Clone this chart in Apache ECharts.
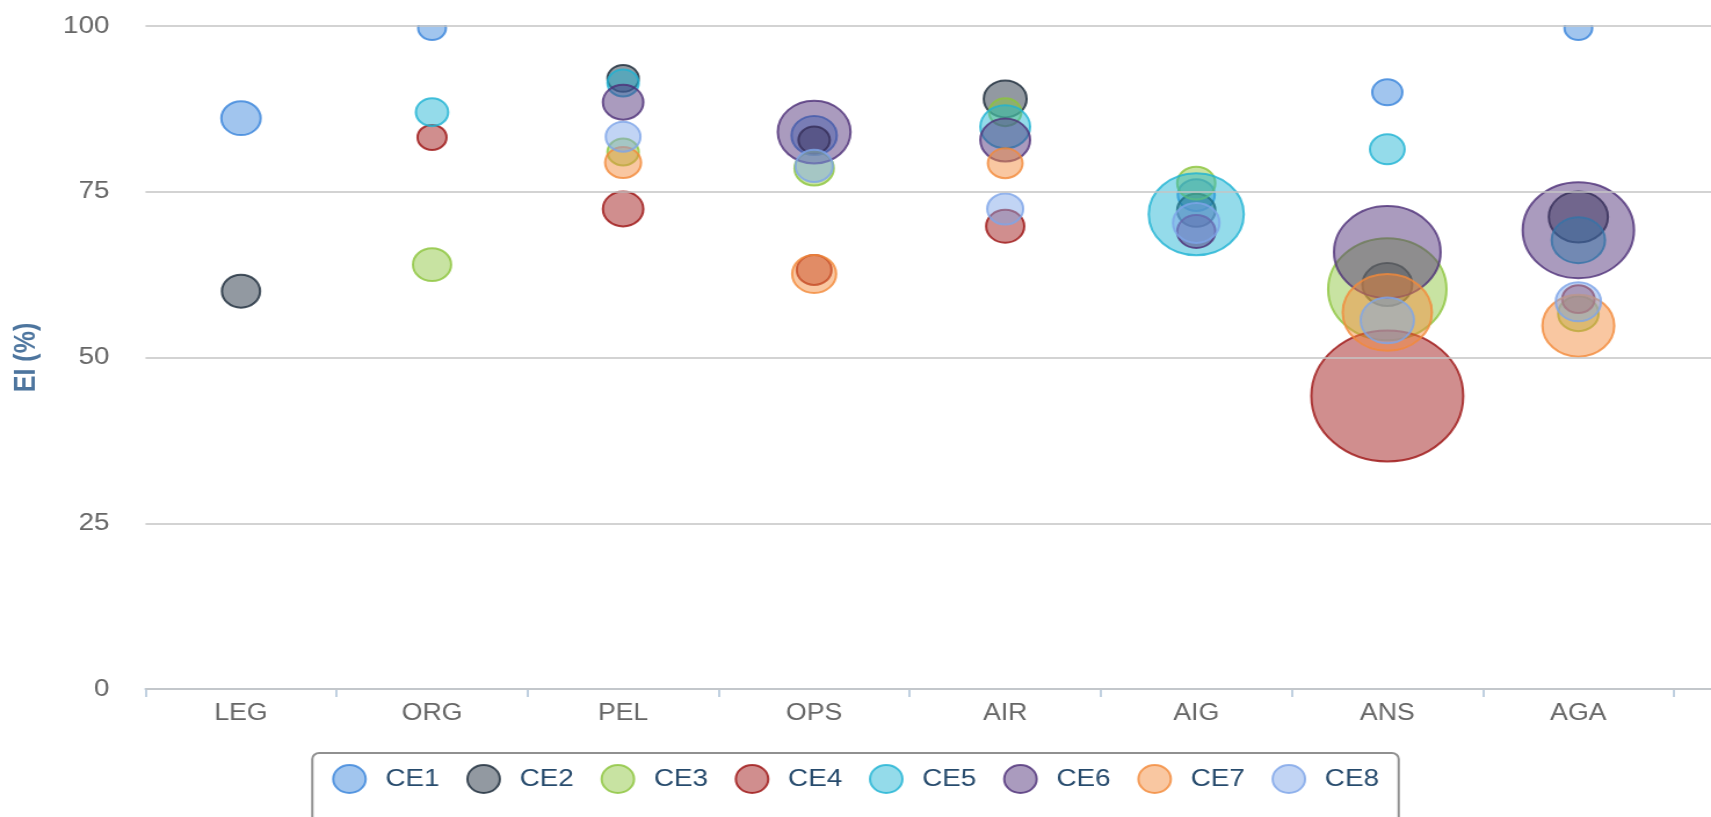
<!DOCTYPE html>
<html>
<head>
<meta charset="utf-8">
<title>EI (%) by area</title>
<script src="https://cdn.jsdelivr.net/npm/echarts@6.0.0/dist/echarts.min.js"></script>
<style>
  html, body { margin: 0; padding: 0; background: #fff; overflow: hidden; }
  /* the source picture is stretched sideways, so the chart is too */
  #chart-container { width: 1475px; height: 817px; transform: scaleX(1.16); transform-origin: 0 0; }
</style>
</head>
<body>
<div id="chart-container"></div>
<script>
// categories (last slot is empty, the axis runs past the edge)
var categories = ['LEG', 'ORG', 'PEL', 'OPS', 'AIR', 'AIG', 'ANS', 'AGA', ''];
var seriesNames = ['CE1', 'CE2', 'CE3', 'CE4', 'CE5', 'CE6', 'CE7', 'CE8'];
var yTicks = [0, 25, 50, 75, 100];

// [category index, EI %, bubble size]
var ce1 = [[0, 86.1, 6.8], [1, 99.7, 3.4], [3, 83.5, 9], [5, 74.5, 6], [6, 90.0, 4.0], [7, 99.7, 3.4]];
var ce2 = [[0, 60.0, 6.4], [2, 92.1, 4.3], [3, 82.8, 4.3], [4, 89.0, 8.1], [5, 72.2, 6.4], [6, 61.0, 10.9], [7, 71.2, 15.4]];
var ce3 = [[1, 64.0, 6.4], [2, 81.0, 4.3], [3, 78.5, 6.8], [4, 87.0, 4.6], [5, 76.3, 6.4], [6, 60.3, 61.6], [7, 56.6, 7.2]];
var ce4 = [[1, 83.2, 3.7], [2, 72.4, 7.2], [3, 63.2, 5.3], [4, 69.8, 6.4], [6, 44.2, 101.5], [7, 58.8, 4.6]];
var ce5 = [[1, 87.0, 4.6], [2, 91.4, 4.3], [4, 84.8, 10.9], [5, 71.6, 39.8], [6, 81.4, 5.3], [7, 67.7, 12.5]];
var ce6 = [[2, 88.5, 7.2], [3, 84.0, 23.3], [4, 82.8, 10.9], [5, 69.0, 6.4], [6, 65.9, 50], [7, 69.2, 54.5]];
var ce7 = [[2, 79.4, 5.7], [3, 62.6, 8.5], [4, 79.3, 5.3], [6, 56.8, 35], [7, 54.8, 22.7]];
var ce8 = [[2, 83.3, 5.3], [3, 78.9, 6.1], [4, 72.4, 5.7], [5, 70.3, 9.5], [6, 55.6, 12.5], [7, 58.4, 9]];

var allData = [ce1, ce2, ce3, ce4, ce5, ce6, ce7, ce8];
var lineColors = ['#3a85db', '#1b2a3a', '#8cc43c', '#9c1212', '#1fb3d3', '#4d2f78', '#f28a3a', '#7ea5e8'];

function fade(hex, a) {
  var n = parseInt(hex.slice(1), 16);
  return 'rgba(' + (n >> 16) + ',' + ((n >> 8) & 255) + ',' + (n & 255) + ',' + a + ')';
}

var dom = document.getElementById('chart-container');
var myChart = echarts.init(dom, null, { renderer: 'canvas' });
var font = 'Liberation Sans, Arial, sans-serif';
var gridLeft = 125.4, gridTop = 26;

var option = {
  animation: false,
  textStyle: { fontFamily: font },
  grid: { left: gridLeft, top: gridTop, bottom: 128, width: 1482.3, outerBoundsMode: 'none', containLabel: false },
  // bubbles sticking out above the top line are cut off, as in the source
  graphic: [{
    type: 'rect',
    z: 5,
    silent: true,
    shape: { x: gridLeft, y: 0, width: 1400, height: gridTop - 1 },
    style: { fill: '#ffffff' }
  }],
  legend: {
    data: seriesNames,
    left: 'center',
    top: 753,
    padding: [11, 17, 30, 17],
    itemWidth: 28,
    itemHeight: 28,
    itemGap: 23,
    icon: 'circle',
    borderColor: '#909090',
    borderWidth: 2,
    borderRadius: 6,
    textStyle: { fontSize: 24, color: '#274b6d', fontFamily: font, padding: [0, 0, 0, 12] }
  },
  xAxis: {
    type: 'category',
    data: categories,
    boundaryGap: true,
    axisLine: { lineStyle: { color: '#c0d0e0', width: 2 } },
    axisTick: { show: true, length: 8, lineStyle: { color: '#c0d0e0', width: 2 } },
    axisLabel: { fontSize: 23, color: '#666666', margin: 13, fontFamily: font },
    splitLine: { show: false }
  },
  yAxis: {
    type: 'value',
    z: 6,
    min: yTicks[0],
    max: yTicks[yTicks.length - 1],
    interval: 25,
    name: 'EI (%)',
    nameLocation: 'middle',
    nameGap: 90,
    nameTextStyle: { fontSize: 25, fontWeight: 'bold', color: '#4d759e', fontFamily: font },
    axisLine: { show: false },
    axisTick: { show: false },
    axisLabel: { fontSize: 24, color: '#666666', margin: 31, padding: [6, 0, 0, 0], fontFamily: font },
    splitLine: { lineStyle: { color: '#c4c4c4', width: 1.5 } }
  },
  series: seriesNames.map(function (name, i) {
    return {
      name: name,
      type: 'scatter',
      data: allData[i],
      symbol: 'circle',
      symbolSize: function (d) { return 13 * Math.sqrt(d[2]); },
      itemStyle: {
        color: fade(lineColors[i], 0.6),
        borderColor: lineColors[i],
        borderWidth: 2
      },
      emphasis: { scale: false }
    };
  })
};

myChart.setOption(option);
window.addEventListener('resize', myChart.resize);
</script>
</body>
</html>
